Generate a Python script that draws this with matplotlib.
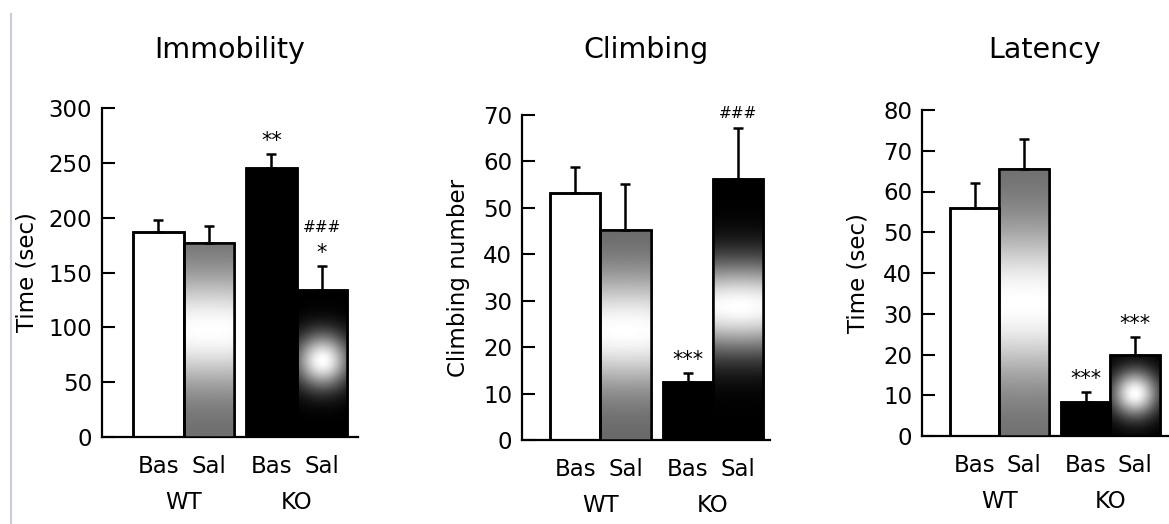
import matplotlib
matplotlib.use("Agg")
import matplotlib.pyplot as plt
from matplotlib.lines import Line2D
import numpy as np

# chart data
titles = ["Immobility", "Climbing", "Latency"]
ylabels = ["Time (sec)", "Climbing number", "Time (sec)"]
bar_labels = ["Bas", "Sal", "Bas", "Sal"]
groups = ["WT", "KO"]

immobility_mean = [187, 177, 245, 134]
immobility_sem = [11, 15, 13, 22]
climbing_mean = [53.2, 45.3, 12.5, 56.3]
climbing_sem = [5.6, 9.8, 1.9, 11.0]
latency_mean = [56.0, 65.5, 8.4, 20.0]
latency_sem = [6.1, 7.5, 2.4, 4.3]

immobility_stars = ["", "", "**", "*"]
immobility_hash = ["", "", "", "###"]
climbing_stars = ["", "", "***", ""]
climbing_hash = ["", "", "", "###"]
latency_stars = ["", "", "***", "***"]
latency_hash = ["", "", "", ""]

yticks = [np.arange(0, 301, 50), np.arange(0, 71, 10), np.arange(0, 81, 10)]

positions = np.array([0, 1, 2.24, 3.24])
fills = ["white", "white", "black", "black"]

# gradient style per bar: (kind, base grey, centre fraction, sigma px)
shades = [
    [None, ("band", 0.42, 0.55, 55), None, ("spot", 0.0, 0.52, 27)],
    [None, ("band", 0.40, 0.52, 55), None, ("band", 0.0, 0.51, 46)],
    [None, ("band", 0.42, 0.50, 75), None, ("spot", 0.0, 0.52, 23)],
]

# axes rectangles (pixels: left, right, bottom, top) and x limits
W, H = 1169, 524
boxes = [(102, 358, 437, 108), (522, 770, 440, 115), (922, 1168, 436, 110)]
xlims = [(-1.12, 3.96), (-1.06, 3.88), (-1.06, 3.90)]
ylab_x = [-0.293, -0.258, -0.26]

means = [immobility_mean, climbing_mean, latency_mean]
sems = [immobility_sem, climbing_sem, latency_sem]
stars = [immobility_stars, climbing_stars, latency_stars]
hashes = [immobility_hash, climbing_hash, latency_hash]

plt.rcParams['font.family'] = ['DejaVu Sans']
fig = plt.figure(figsize=(W / 100, H / 100), dpi=100)
fig.add_artist(Line2D([11 / W, 11 / W], [0, 1 - 14 / H], color="#c9ccd6", lw=1.5))


def shade_bar(ax, bar, spec):
    kind, g0, c, s = spec
    x0, w, h = bar.get_x(), bar.get_width(), bar.get_height()
    (px0, py0), (px1, py1) = ax.transData.transform([(0, 0), (1, 1)])
    wpx, hpx = w * (px1 - px0), h * (py1 - py0)
    u = np.linspace(0, 1, 200)
    U, V = np.meshgrid(u, u)
    dx = (U - 0.5) * wpx
    dy = (V - c) * hpx
    if kind == "band":
        val = g0 + (1 - g0) * np.exp(-(dy / s) ** 2) * np.exp(-(dx / (3 * s)) ** 2)
    else:
        val = np.exp(-(dx ** 2 + dy ** 2) / s ** 2)
    im = ax.imshow(val, cmap="gray", vmin=0, vmax=1, origin="lower",
                   extent=(x0, x0 + w, 0, h), aspect="auto",
                   interpolation="bilinear", zorder=3)
    im.set_clip_path(bar)


for i in range(3):
    l, r, b, t = boxes[i]
    ax = fig.add_axes([l / W, 1 - b / H, (r - l) / W, (b - t) / H])
    ax.set_xlim(*xlims[i])
    ax.set_ylim(0, yticks[i][-1])

    bars = ax.bar(positions, means[i], width=1, color=fills, edgecolor="black",
                  linewidth=1.8, zorder=2)
    for bar, spec in zip(bars, shades[i]):
        if spec is not None:
            shade_bar(ax, bar, spec)
    ax.bar(positions, means[i], width=1, fill=False, edgecolor="black",
           linewidth=1.8, zorder=4)
    ax.errorbar(positions, means[i], yerr=[np.zeros(4), sems[i]], fmt="none",
                ecolor="black", elinewidth=1.8, capsize=3.5, capthick=1.8, zorder=5)

    ax.set_xlim(*xlims[i])
    ax.set_ylim(0, yticks[i][-1])

    for j in range(4):
        top = means[i][j] + sems[i][j]
        off = 2
        if stars[i][j]:
            ax.annotate(stars[i][j], (positions[j], top), xytext=(0, off),
                        textcoords="offset points", ha="center", va="bottom",
                        fontsize=15, annotation_clip=False)
            off += 17
        if hashes[i][j]:
            ax.annotate(hashes[i][j], (positions[j], top), xytext=(0, off + 3),
                        textcoords="offset points", ha="center", va="bottom",
                        fontsize=11, annotation_clip=False)

    for spine in ["top", "right"]:
        ax.spines[spine].set_visible(False)
    for spine in ["left", "bottom"]:
        ax.spines[spine].set_linewidth(1.6)

    ax.set_yticks(yticks[i])
    ax.tick_params(axis="y", direction="in", length=9, width=1.5, labelsize=16.5, pad=7)
    ax.set_xticks(positions, bar_labels)
    ax.tick_params(axis="x", length=0, labelsize=16.5, pad=13)

    ax.set_ylabel(ylabels[i], fontsize=16.5, va="center")
    ax.yaxis.set_label_coords(ylab_x[i], 0.5)

    centers = [positions[:2].mean(), positions[2:].mean()]
    for cx, g in zip(centers, groups):
        ax.annotate(g, (cx, 0), xycoords=("data", "axes fraction"), xytext=(0, -47.5),
                    textcoords="offset points", ha="center", va="center", fontsize=16.5)

    fig.text((l + r) / 2 / W, 1 - 50 / H, titles[i], ha="center", va="center", fontsize=20.5)

fig.savefig("out.png", dpi=100)
